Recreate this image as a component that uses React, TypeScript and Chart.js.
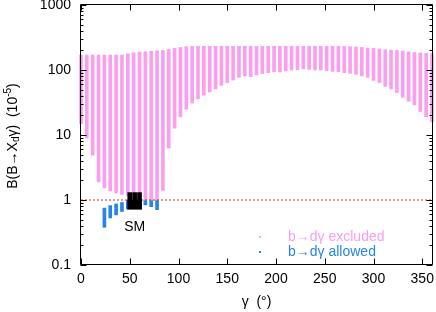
import React, { useEffect, useRef } from 'react';
import { Chart, registerables } from 'chart.js';
Chart.register(...registerables);

const FONT = '"Liberation Sans", Arial, sans-serif';

// gamma grid (degrees)
const gammaValues = [0, 6, 12, 18, 24, 30, 36, 42, 48, 54, 60, 66, 72, 78, 84, 90, 96, 102, 108, 114, 120, 126, 132, 138, 144, 150, 156, 162, 168, 174, 180, 186, 192, 198, 204, 210, 216, 222, 228, 234, 240, 246, 252, 258, 264, 270, 276, 282, 288, 294, 300, 306, 312, 318, 324, 330, 336, 342, 348, 354, 360];
// b -> d gamma excluded range (low / high), 10^-5
const excludedLow = [15, 9, 4.9, 1.9, 1.53, 1.38, 1.28, 1.22, 1.17, 1.1, 1.05, 1.0, 1.0, 1.0, 1.4, 6.3, 12.7, 19, 25, 31, 36, 41, 46, 51, 58, 64, 70, 77, 81, 79, 84, 88, 91, 94, 93, 97, 100, 101, 104, 102, 100, 100, 98, 95, 94, 91, 89, 86, 81, 77, 69, 64, 56, 51, 45, 38, 33, 29, 23, 19, 16];
const excludedHigh = [170, 170, 170, 170, 170, 170, 170, 170, 178, 183, 188, 190, 193, 197, 200, 207, 215, 222, 228, 230, 232, 232, 232, 232, 232, 232, 232, 232, 232, 232, 232, 232, 232, 232, 232, 232, 232, 232, 232, 232, 232, 232, 232, 232, 232, 230, 228, 226, 222, 218, 215, 210, 205, 202, 200, 196, 190, 186, 183, 180, 178];
// b -> d gamma allowed range
const allowedGamma = [24, 30, 36, 42, 48, 54, 60, 66, 72, 78];
const allowedLow = [0.38, 0.53, 0.59, 0.665, 0.73, 0.75, 0.78, 0.84, 0.79, 0.71];
const allowedHigh = [0.75, 0.82, 0.87, 0.915, 0.98, 1.0, 1.0, 0.98, 0.98, 0.98];
// Standard Model region
const smGammaCore = [55];
const smCoreLow = [0.72];
const smCoreHigh = [1.0];
const smGammaTop = [50, 55, 60];
const smTopLow = [1.0, 1.0, 1.0];
const smTopHigh = [1.3, 1.3, 1.3];
// reference line
const refLineX = [0, 360];
const refLineY = [1, 1];
// ticks
const xTickValues = [0, 50, 100, 150, 200, 250, 300, 350];
const yTickValues = [0.1, 1, 10, 100, 1000];
const yTickLabels = ['0.1', '1', '10', '100', '1000'];

const PINK = 'rgb(252,158,238)';
const BLUE = 'rgb(40,132,232)';

const framePlugin = {
  id: 'frame',
  afterDraw(chart: any) {
    const { ctx, chartArea: a, scales } = chart;
    const x = scales.x, y = scales.y;
    const L = Math.round(a.left) - 0.5, R = Math.round(a.right) + 0.5;
    const T = Math.round(a.top) - 0.5, B = Math.round(a.bottom) - 0.5;
    ctx.save();
    ctx.strokeStyle = '#000';
    ctx.lineWidth = 1;
    ctx.beginPath();
    ctx.rect(L, T, R - L, B - T);
    // x major ticks
    for (const v of xTickValues) {
      const px = Math.round(x.getPixelForValue(v)) + 0.5;
      ctx.moveTo(px, B); ctx.lineTo(px, B - 6);
      ctx.moveTo(px, T); ctx.lineTo(px, T + 6);
    }
    // y ticks
    for (let e = -1; e <= 3; e++) {
      for (let m = 1; m <= 9; m++) {
        const v = m * Math.pow(10, e);
        if (v > 1000.0001) continue;
        const py = Math.round(y.getPixelForValue(v)) + 0.5;
        const len = m === 1 ? 6 : 3;
        ctx.moveTo(L, py); ctx.lineTo(L + len, py);
        ctx.moveTo(R, py); ctx.lineTo(R - len, py);
      }
    }
    ctx.stroke();

    // SM label
    ctx.font = '14px ' + FONT;
    ctx.fillStyle = '#000';
    ctx.textBaseline = 'middle';
    ctx.textAlign = 'center';
    ctx.fillText('SM', x.getPixelForValue(55), 227);

    // legend
    ctx.textAlign = 'left';
    ctx.fillStyle = PINK;
    ctx.fillRect(259, 236, 2, 2);
    ctx.fillText('b\u2192d\u03b3 excluded', 288, 237);
    ctx.fillStyle = BLUE;
    ctx.fillRect(259, 251, 2, 2);
    ctx.fillText('b\u2192d\u03b3 allowed', 288, 252);

    // x title
    ctx.fillStyle = '#000';
    ctx.textAlign = 'center';
    ctx.fillText('\u03b3  (\u00b0)', (a.left + a.right) / 2, 302);

    // y title
    ctx.save();
    ctx.translate(0, 136);
    ctx.rotate(-Math.PI / 2);
    ctx.textAlign = 'left';
    ctx.textBaseline = 'alphabetic';
    const big = '14px ' + FONT, small = '10px ' + FONT;
    const parts = [
      { t: 'B(B\u2192X', f: big, dy: 0 },
      { t: 'd', f: small, dy: 2.5 },
      { t: '\u03b3)  (10', f: big, dy: 0 },
      { t: '-5', f: small, dy: -6 },
      { t: ')', f: big, dy: 0 },
    ];
    let total = 0;
    for (const p of parts) { ctx.font = p.f; total += ctx.measureText(p.t).width; }
    let cx = -total / 2;
    for (const p of parts) {
      ctx.font = p.f;
      ctx.fillText(p.t, cx, 16.5 + p.dy);
      cx += ctx.measureText(p.t).width;
    }
    ctx.restore();
    ctx.restore();
  },
};

export default function App() {
  const ref = useRef<HTMLCanvasElement>(null);
  useEffect(() => {
    const barOpts = { grouped: false, borderWidth: 0, borderSkipped: false };
    const chart = new Chart(ref.current as HTMLCanvasElement, {
      type: 'bar',
      data: {
        datasets: [
          {
            type: 'bar', label: 'SM top', order: 0, ...barOpts, barThickness: 4,
            backgroundColor: '#000',
            data: smGammaTop.map((g, i) => ({ x: g, y: [smTopLow[i], smTopHigh[i]] })),
          },
          {
            type: 'bar', label: 'SM', order: 0, ...barOpts, barThickness: 14,
            backgroundColor: '#000',
            data: smGammaCore.map((g, i) => ({ x: g, y: [smCoreLow[i], smCoreHigh[i]] })),
          },
          {
            type: 'line', label: 'ref', order: 1,
            borderColor: 'rgb(215,40,40)', borderWidth: 1, borderDash: [2, 2],
            pointRadius: 0, fill: false,
            data: refLineX.map((v, i) => ({ x: v, y: refLineY[i] })),
          },
          {
            type: 'bar', label: 'b\u2192d\u03b3 allowed', order: 2, ...barOpts, barThickness: 3,
            backgroundColor: BLUE,
            data: allowedGamma.map((g, i) => ({ x: g, y: [allowedLow[i], allowedHigh[i]] })),
          },
          {
            type: 'bar', label: 'b\u2192d\u03b3 excluded', order: 3, ...barOpts, barThickness: 3,
            backgroundColor: PINK, clip: false,
            data: gammaValues.map((g, i) => ({ x: g, y: [excludedLow[i], excludedHigh[i]] })),
          },
        ] as any,
      },
      options: {
        responsive: false,
        animation: false,
        devicePixelRatio: 1,
        layout: { padding: { top: 5, right: 4, left: 0, bottom: 0 } },
        plugins: { legend: { display: false }, tooltip: { enabled: false } },
        scales: {
          x: {
            type: 'linear', min: 0, max: 360, offset: false,
            grid: { display: false, drawTicks: false }, border: { display: false },
            afterBuildTicks: (s: any) => { s.ticks = xTickValues.map((v) => ({ value: v })); },
            afterFit: (s: any) => { s.height = 47; s.paddingLeft = 0; s.paddingRight = 0; },
            ticks: {
              color: '#000', font: { family: FONT, size: 14 }, padding: 6,
              maxRotation: 0, autoSkip: false, callback: (v: any) => String(v),
            },
          },
          y: {
            type: 'logarithmic', min: 0.1, max: 1000,
            grid: { display: false, drawTicks: false }, border: { display: false },
            afterBuildTicks: (s: any) => { s.ticks = yTickValues.map((v) => ({ value: v })); },
            afterFit: (s: any) => { s.width = 81; s.paddingTop = 0; s.paddingBottom = 0; },
            ticks: {
              color: '#000', font: { family: FONT, size: 14 }, padding: 10, autoSkip: false,
              callback: (v: any) => { const k = yTickValues.indexOf(Number(v)); return k >= 0 ? yTickLabels[k] : ''; },
            },
          },
        },
      } as any,
      plugins: [framePlugin],
    } as any);
    return () => chart.destroy();
  }, []);
  return (
    <div style={{ position: 'fixed', left: 0, top: 0, width: 436, height: 312, background: '#fff' }}>
      <canvas ref={ref} width={436} height={312} style={{ display: 'block', width: 436, height: 312 }} />
    </div>
  );
}
